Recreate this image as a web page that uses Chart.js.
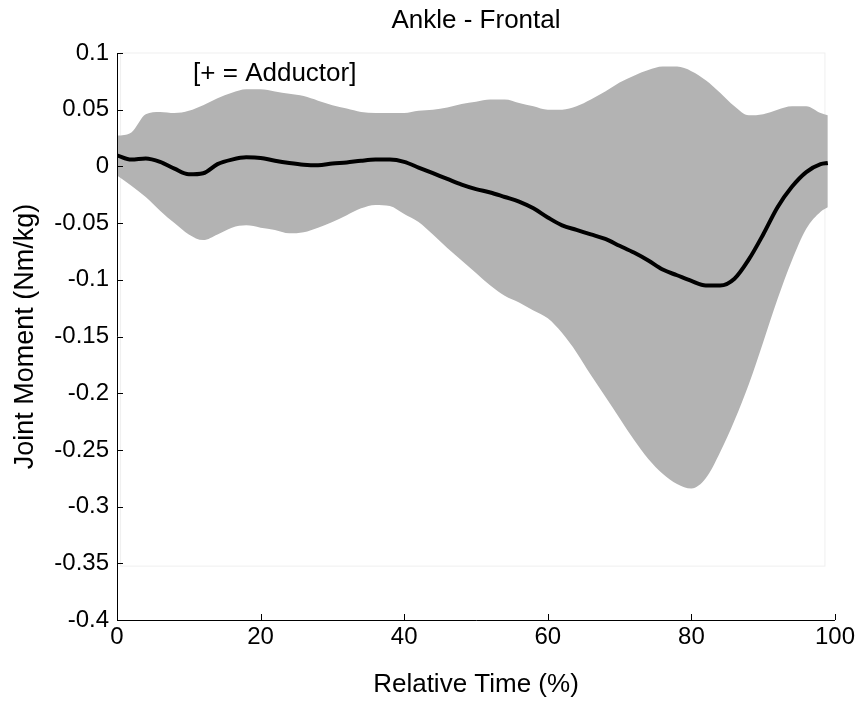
<!DOCTYPE html>
<html>
<head>
<meta charset="utf-8">
<script src="https://cdn.jsdelivr.net/npm/chart.js@4.4.1/dist/chart.umd.min.js"></script>
<style>
  html, body { margin: 0; padding: 0; background: #fff; }
  #chart { display: block; }
</style>
</head>
<body>
<canvas id="chart" width="858" height="702"></canvas>
<script>
const FONT = "'Liberation Sans', Arial, sans-serif";

// relative time (%) samples
const time = [0, 2, 4, 6, 8, 10, 12, 14, 16, 18, 20, 22, 24, 26, 28, 30, 32, 34, 36, 38, 40,
  42, 44, 46, 48, 50, 52, 54, 56, 58, 60, 62, 64, 66, 68, 70, 72, 74, 76, 78, 80,
  82, 84, 86, 88, 90, 92, 94, 96, 98, 99];

// mean joint moment (Nm/kg)
const meanMoment = [0.0097, 0.006, 0.007, 0.004, -0.002, -0.007, -0.006, 0.002, 0.006, 0.008, 0.0075,
  0.005, 0.003, 0.0015, 0.001, 0.0025, 0.0035, 0.005, 0.006, 0.006, 0.004,
  -0.001, -0.006, -0.011, -0.016, -0.020, -0.023, -0.027, -0.031, -0.037, -0.045,
  -0.052, -0.056, -0.060, -0.064, -0.070, -0.076, -0.083, -0.091, -0.096, -0.101,
  -0.105, -0.105, -0.099, -0.082, -0.060, -0.036, -0.018, -0.005, 0.002, 0.003];

// upper / lower edge of the shaded band
const upperBand = [0.027, 0.030, 0.046, 0.048, 0.047, 0.049, 0.054, 0.060, 0.065, 0.068, 0.068,
  0.066, 0.064, 0.062, 0.058, 0.054, 0.051, 0.048, 0.047, 0.047, 0.047,
  0.049, 0.050, 0.052, 0.055, 0.057, 0.059, 0.059, 0.056, 0.053, 0.050,
  0.050, 0.053, 0.059, 0.066, 0.074, 0.080, 0.085, 0.088, 0.088, 0.084,
  0.076, 0.065, 0.053, 0.045, 0.046, 0.050, 0.053, 0.053, 0.047, 0.045];

const lowerBand = [-0.008, -0.017, -0.027, -0.039, -0.050, -0.060, -0.065, -0.060, -0.054, -0.052, -0.054,
  -0.056, -0.059, -0.058, -0.054, -0.049, -0.043, -0.037, -0.034, -0.035, -0.042,
  -0.049, -0.060, -0.072, -0.083, -0.094, -0.105, -0.114, -0.120, -0.127, -0.134,
  -0.147, -0.164, -0.184, -0.203, -0.222, -0.241, -0.258, -0.271, -0.280, -0.284,
  -0.275, -0.252, -0.224, -0.192, -0.155, -0.117, -0.083, -0.055, -0.040, -0.036];

const xTicks = [0, 20, 40, 60, 80, 100];
const yTicks = [0.1, 0.05, 0, -0.05, -0.1, -0.15, -0.2, -0.25, -0.3, -0.35, -0.4];

const pts = arr => arr.map((v, i) => ({ x: time[i], y: v }));

// matlab style axes: left + bottom lines, ticks pointing inward, plus the note
const matlabAxes = {
  id: 'matlabAxes',
  beforeDatasetsDraw(chart) {
    const { ctx, scales: { x, y } } = chart;
    // faint frame left behind in the original figure
    ctx.save();
    ctx.strokeStyle = '#efefef';
    ctx.lineWidth = 1;
    ctx.strokeRect(x.getPixelForValue(0.5), y.getPixelForValue(0.1),
      x.getPixelForValue(98.6) - x.getPixelForValue(0.5),
      y.getPixelForValue(-0.3525) - y.getPixelForValue(0.1));
    ctx.restore();
  },
  afterDatasetsDraw(chart) {
    const { ctx, chartArea: a, scales: { x, y } } = chart;
    ctx.save();
    ctx.strokeStyle = '#000';
    ctx.lineWidth = 1;
    ctx.beginPath();
    ctx.moveTo(a.left + 0.5, a.top);
    ctx.lineTo(a.left + 0.5, a.bottom + 0.5);
    ctx.lineTo(a.right, a.bottom + 0.5);
    yTicks.forEach(v => {
      const py = Math.round(y.getPixelForValue(v)) + 0.5;
      ctx.moveTo(a.left, py);
      ctx.lineTo(a.left + 6, py);
    });
    xTicks.forEach(v => {
      const px = Math.round(x.getPixelForValue(v)) + 0.5;
      ctx.moveTo(px, a.bottom);
      ctx.lineTo(px, a.bottom - 6);
    });
    ctx.stroke();

    ctx.fillStyle = '#000';
    ctx.font = '26px ' + FONT;
    ctx.textAlign = 'left';
    ctx.textBaseline = 'middle';
    ctx.fillText('[+ = Adductor]', x.getPixelForValue(10.6), y.getPixelForValue(0.082));
    ctx.restore();
  }
};

new Chart(document.getElementById('chart'), {
  type: 'line',
  data: {
    datasets: [
      {
        label: 'Mean',
        data: pts(meanMoment),
        borderColor: '#000',
        borderWidth: 4,
        pointRadius: 0,
        fill: false,
        cubicInterpolationMode: 'monotone',
        order: 0
      },
      {
        label: 'Upper',
        data: pts(upperBand),
        borderWidth: 0,
        borderColor: 'rgba(0,0,0,0)',
        backgroundColor: '#b3b3b3',
        pointRadius: 0,
        fill: '+1',
        cubicInterpolationMode: 'monotone',
        order: 1
      },
      {
        label: 'Lower',
        data: pts(lowerBand),
        borderWidth: 0,
        borderColor: 'rgba(0,0,0,0)',
        pointRadius: 0,
        fill: false,
        cubicInterpolationMode: 'monotone',
        order: 2
      }
    ]
  },
  options: {
    responsive: false,
    animation: false,
    layout: { padding: { left: 0, right: 23, top: 0, bottom: 0 } },
    plugins: {
      legend: { display: false },
      tooltip: { enabled: false },
      title: {
        display: true,
        fullSize: false,
        text: 'Ankle - Frontal',
        color: '#000',
        font: { family: FONT, size: 26, weight: 'normal', lineHeight: 1.2 },
        padding: { top: 5, bottom: 16.8 }
      }
    },
    scales: {
      x: {
        type: 'linear',
        min: 0,
        max: 100,
        afterFit: s => { s.height = 82; },
        afterBuildTicks: s => { s.ticks = xTicks.map(v => ({ value: v })); },
        grid: { display: false, drawTicks: false },
        border: { display: false },
        ticks: {
          color: '#000',
          padding: 3,
          maxRotation: 0,
          font: { family: FONT, size: 24 }
        },
        title: {
          display: true,
          text: 'Relative Time (%)',
          color: '#000',
          font: { family: FONT, size: 26, lineHeight: 1.2 },
          padding: { top: 0, bottom: 2 }
        }
      },
      y: {
        type: 'linear',
        min: -0.4,
        max: 0.1,
        afterFit: s => { s.width = 117; },
        afterBuildTicks: s => { s.ticks = yTicks.map(v => ({ value: v })); },
        grid: { display: false, drawTicks: false },
        border: { display: false },
        ticks: {
          color: '#000',
          padding: 8,
          font: { family: FONT, size: 24 },
          callback: v => String(Number(v.toFixed(2)))
        },
        title: {
          display: true,
          text: 'Joint Moment (Nm/kg)',
          color: '#000',
          font: { family: FONT, size: 27, lineHeight: 1.2 },
          padding: { top: 9, bottom: 0 }
        }
      }
    }
  },
  plugins: [matlabAxes]
});
</script>
</body>
</html>
